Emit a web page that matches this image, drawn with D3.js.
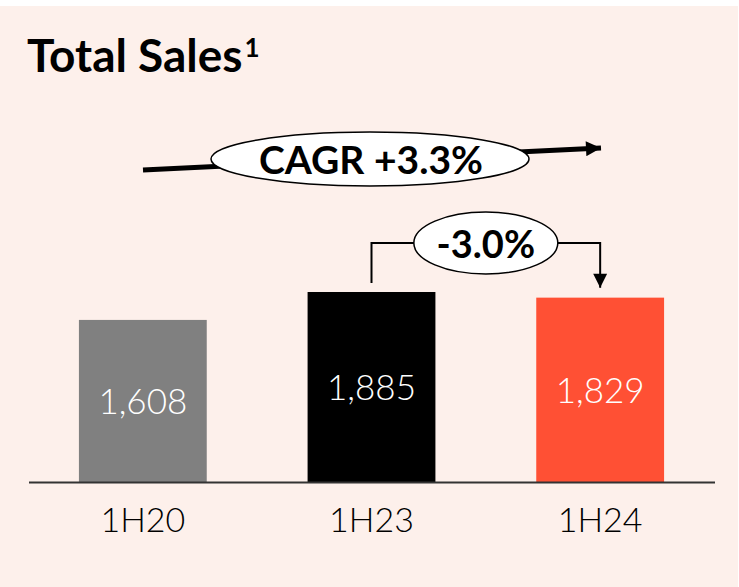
<!DOCTYPE html>
<html>
<head>
<meta charset="utf-8">
<script src="https://cdn.jsdelivr.net/npm/d3@7"></script>
<style>
  body { margin: 0; background: #fff; }
  svg { display: block; }
</style>
</head>
<body>
<div id="chart"></div>
<script>
var periods = ['1H20', '1H23', '1H24'];
var sales = [1608, 1885, 1829];
var barColors = ['#808080', '#000000', '#ff5034'];
var cagrLabel = 'CAGR +3.3%';
var changeLabel = '-3.0%';

var width = 739,
    height = 587;

var font = "'Century Gothic', Lato, 'DejaVu Sans', sans-serif";

var svg = d3.select('#chart')
    .append('svg')
    .attr('width', width)
    .attr('height', height);

svg.append('rect')
    .attr('x', 0)
    .attr('y', 6)
    .attr('width', width - 1)
    .attr('height', height - 6)
    .attr('fill', '#fdf0eb');

// title
var title = svg.append('text')
    .attr('x', 27)
    .attr('y', 72)
    .attr('font-family', font)
    .style('font-size', '46px')
    .style('font-weight', 700)
    .attr('fill', '#000');
title.append('tspan').text('Total Sales');
title.append('tspan')
    .attr('dx', 2)
    .attr('dy', -15)
    .style('font-size', '26px')
    .text('1');

var x = d3.scaleBand()
    .domain(periods)
    .range([28.5, 714.5])
    .paddingInner(0.441)
    .paddingOuter(0.2205);

var y = d3.scaleLinear()
    .domain([0, d3.max(sales)])
    .range([482, 292]);

// bars
svg.append('g').selectAll('rect')
    .data(sales)
    .enter()
    .append('rect')
    .attr('x', (d, i) => x(periods[i]))
    .attr('y', d => y(d))
    .attr('width', x.bandwidth())
    .attr('height', d => y(0) - y(d))
    .attr('fill', (d, i) => barColors[i]);

svg.append('g').selectAll('text')
    .data(sales)
    .enter()
    .append('text')
    .attr('x', (d, i) => x(periods[i]) + x.bandwidth() / 2)
    .attr('y', d => (y(d) + y(0)) / 2 + 13)
    .attr('text-anchor', 'middle')
    .attr('font-family', font)
    .style('font-size', '35px')
    .style('font-weight', 300)
    .attr('fill', '#fff')
    .text(d => d3.format(',')(d));

// axis line
svg.append('line')
    .attr('x1', 29)
    .attr('x2', 715)
    .attr('y1', y(0) + 0.5)
    .attr('y2', y(0) + 0.5)
    .attr('stroke', '#333')
    .attr('stroke-width', 2);

svg.append('g').selectAll('text')
    .data(periods)
    .enter()
    .append('text')
    .attr('x', d => x(d) + x.bandwidth() / 2)
    .attr('y', 532)
    .attr('text-anchor', 'middle')
    .attr('font-family', font)
    .style('font-size', '34px')
    .style('font-weight', 300)
    .attr('fill', '#000')
    .text(d => d);

// arrow heads
var defs = svg.append('defs');
defs.append('marker')
    .attr('id', 'headBig')
    .attr('viewBox', '0 0 10 10')
    .attr('refX', 10)
    .attr('refY', 5)
    .attr('markerWidth', 3.4)
    .attr('markerHeight', 3)
    .attr('markerUnits', 'strokeWidth')
    .attr('orient', 'auto')
    .append('path')
    .attr('d', 'M0,0L10,5L0,10Z')
    .attr('fill', '#000');

defs.append('marker')
    .attr('id', 'headSmall')
    .attr('viewBox', '0 0 10 10')
    .attr('refX', 10)
    .attr('refY', 5)
    .attr('markerWidth', 8)
    .attr('markerHeight', 7)
    .attr('markerUnits', 'strokeWidth')
    .attr('orient', 'auto')
    .append('path')
    .attr('d', 'M0,0L10,5L0,10Z')
    .attr('fill', '#000');

// CAGR arrow
svg.append('line')
    .attr('x1', 143)
    .attr('y1', 170)
    .attr('x2', 601)
    .attr('y2', 148)
    .attr('stroke', '#000')
    .attr('stroke-width', 5)
    .attr('marker-end', 'url(#headBig)');

svg.append('ellipse')
    .attr('cx', 370)
    .attr('cy', 159)
    .attr('rx', 159)
    .attr('ry', 27)
    .attr('fill', '#fff')
    .attr('stroke', '#000')
    .attr('stroke-width', 1.5);

svg.append('text')
    .attr('x', 371)
    .attr('y', 174)
    .attr('text-anchor', 'middle')
    .attr('font-family', font)
    .style('font-size', '39px')
    .style('font-weight', 700)
    .attr('fill', '#000')
    .text(cagrLabel);

// change bracket 1H23 -> 1H24
var xa = x('1H23') + x.bandwidth() / 2,
    xb = x('1H24') + x.bandwidth() / 2,
    yTop = 243;

svg.append('path')
    .attr('d', 'M' + xa + ',' + (y(sales[1]) - 9) + 'V' + yTop + 'H' + xb + 'V' + (y(sales[2]) - 10))
    .attr('fill', 'none')
    .attr('stroke', '#000')
    .attr('stroke-width', 2)
    .attr('marker-end', 'url(#headSmall)');

svg.append('ellipse')
    .attr('cx', (xa + xb) / 2)
    .attr('cy', yTop)
    .attr('rx', 72)
    .attr('ry', 31)
    .attr('fill', '#fff')
    .attr('stroke', '#000')
    .attr('stroke-width', 1.5);

svg.append('text')
    .attr('x', (xa + xb) / 2)
    .attr('y', yTop + 15)
    .attr('text-anchor', 'middle')
    .attr('font-family', font)
    .style('font-size', '38px')
    .style('font-weight', 700)
    .attr('fill', '#000')
    .text(changeLabel);
</script>
</body>
</html>
